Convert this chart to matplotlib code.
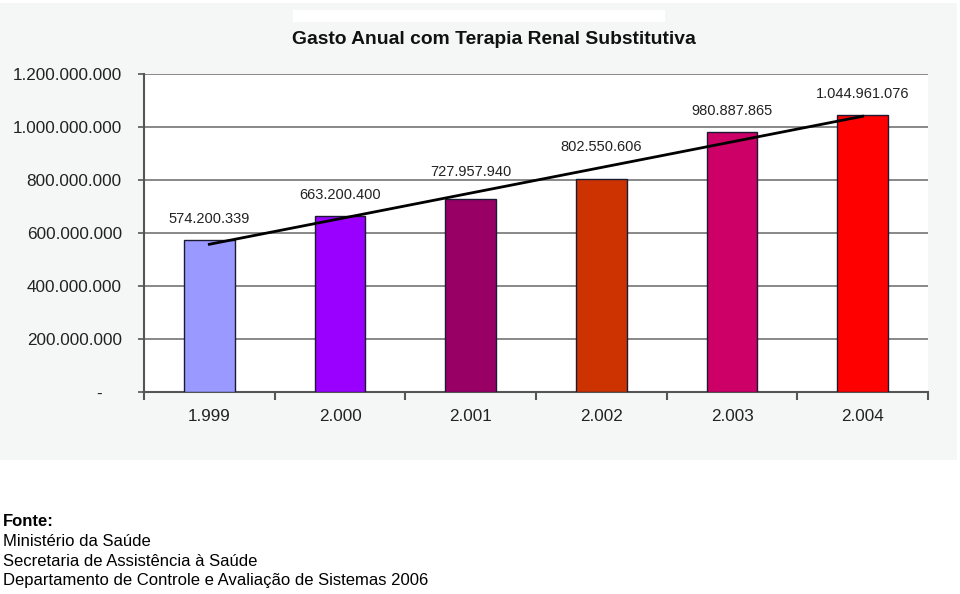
import numpy as np
import matplotlib.pyplot as plt
from matplotlib.patches import Rectangle

plt.rcParams['font.family'] = ['Liberation Sans', 'DejaVu Sans']

anos = ['1.999', '2.000', '2.001', '2.002', '2.003', '2.004']
gasto = [574200339, 663200400, 727957940, 802550606, 980887865, 1044961076]
cores = ['#9999ff', '#9900ff', '#990066', '#cc3300', '#cc0066', '#ff0000']
yticks = [0, 200000000, 400000000, 600000000, 800000000, 1000000000, 1200000000]
fonte = ['Ministério da Saúde',
         'Secretaria de Assistência à Saúde',
         'Departamento de Controle e Avaliação de Sistemas 2006']


def fmt(v):
    if v == 0:
        return '-    '
    return '{:,}'.format(v).replace(',', '.')


fig = plt.figure(figsize=(9.6, 5.94), dpi=100)
fig.patch.set_facecolor('white')

# fundo cinza do grafico colado
fig.patches.append(Rectangle((0, 134/594), 957/960, 457/594, transform=fig.transFigure,
                             facecolor='#f4f7f5', edgecolor='none', zorder=-2))
fig.patches.append(Rectangle((293/960, 1 - 22/594), 372/960, 12/594, transform=fig.transFigure,
                             facecolor='white', edgecolor='none', zorder=-1))

ax = fig.add_axes([144/960, 202/594, 784/960, 318/594])
ax.set_facecolor('white')
ax.set_zorder(1)

x = np.arange(len(anos))
ax.bar(x, gasto, width=0.39, color=cores, edgecolor='#1a1a33', linewidth=1.0, zorder=3)

# linha de tendencia
coef = np.polyfit(x, gasto, 1)
trend = np.polyval(coef, x)
ax.plot(x, trend, color='black', lw=2.0, zorder=4)

for xi, v, t in zip(x, gasto, trend):
    ax.annotate(fmt(v), (xi, max(v, t)), xytext=(0, 15), textcoords='offset points',
                ha='center', va='center', fontsize=10.5, color='#222222')

ax.set_xlim(-0.5, len(anos) - 0.5)
ax.set_ylim(0, 1200000000)
ax.set_yticks(yticks)
ax.set_yticklabels([fmt(v) for v in yticks], fontsize=12.3, color='#222222')
ax.tick_params(axis='y', length=4, width=1.2, color='#555555', pad=12)
ax.yaxis.grid(True, color='#7f7f7f', lw=1.3, zorder=1)
ax.set_axisbelow(True)

ax.set_xticks(np.arange(-0.5, len(anos)), labels=[''] * (len(anos) + 1))
ax.tick_params(axis='x', which='major', length=6, width=1.5, color='#555555', direction='out')
ax.set_xticks(x, minor=True)
ax.set_xticklabels(anos, minor=True, fontsize=12.3, color='#222222')
ax.tick_params(axis='x', which='minor', length=0, pad=12)

for s in ['top', 'right']:
    ax.spines[s].set_visible(False)
for s in ['left', 'bottom']:
    ax.spines[s].set_color('#555555')
    ax.spines[s].set_linewidth(1.5)

fig.text(494/960, 1 - 39/594, 'Gasto Anual com Terapia Renal Substitutiva',
         ha='center', va='center', fontsize=13.9, fontweight='bold', color='#111111')

fig.text(3/960, 1 - 521/594, 'Fonte:', ha='left', va='center', fontsize=12, fontweight='bold')
for i, linha in enumerate(fonte):
    fig.text(3/960, 1 - (541 + 20*i)/594, linha, ha='left', va='center', fontsize=12)

fig.savefig('out.png', dpi=100)
